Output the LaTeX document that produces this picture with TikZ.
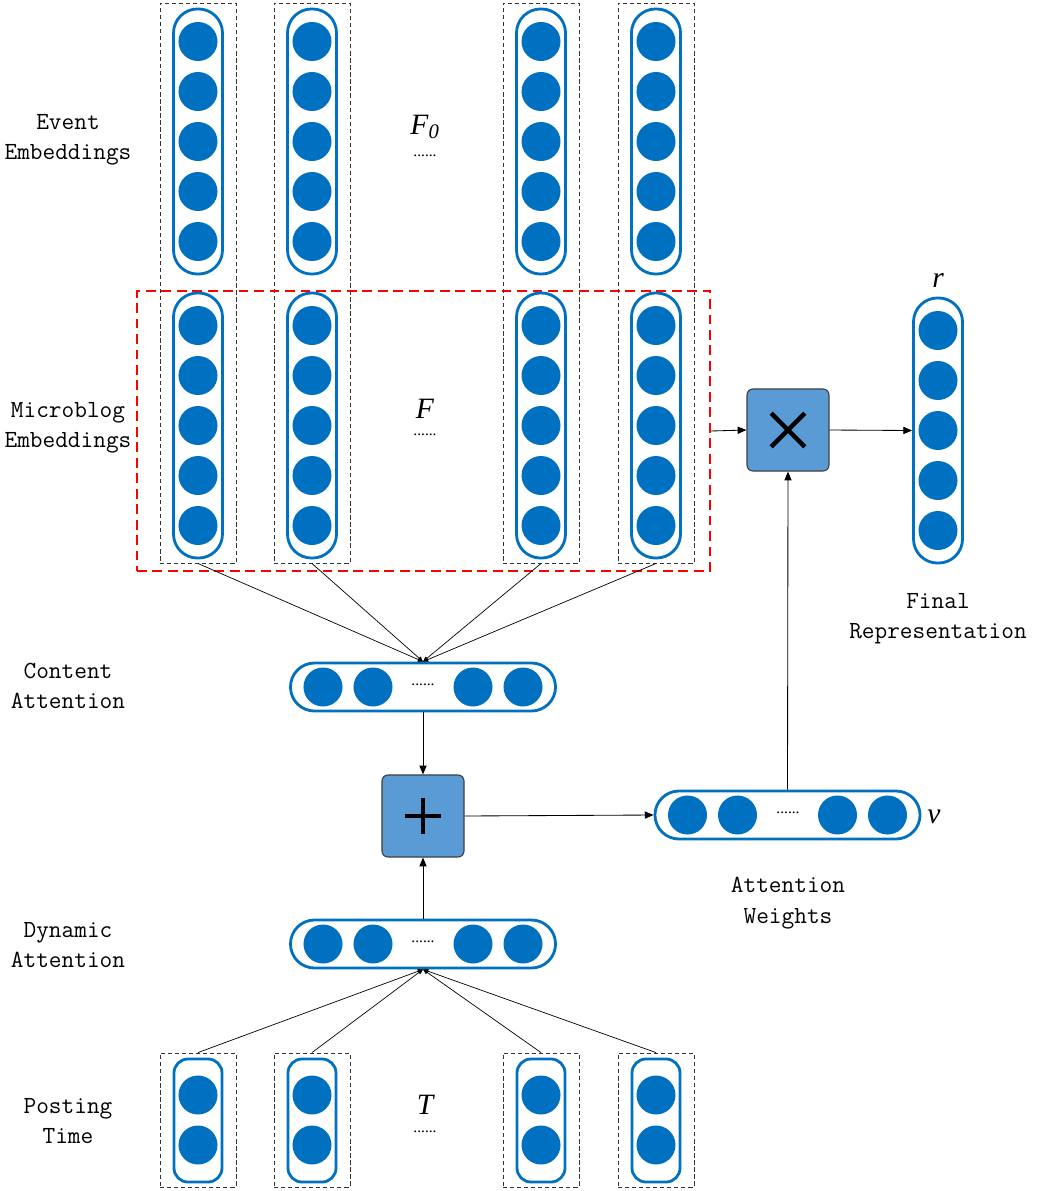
\documentclass[tikz,border=0pt]{standalone}
\usepackage{fontspec}
\newfontfamily\symfont{Liberation Serif}
\usetikzlibrary{arrows.meta}
\usetikzlibrary{positioning}
\definecolor{nnblue}{HTML}{0070C0}
\definecolor{opblue}{HTML}{5B9BD5}
\tikzset{
  neuron/.style={circle, fill=nnblue, inner sep=0pt, minimum size=0.975cm},
  vpill/.style={draw=nnblue, line width=2pt, rounded corners=0.6cm, minimum width=1.225cm, minimum height=6.625cm, inner sep=0pt},
  hpill/.style={draw=nnblue, line width=2pt, rounded corners=0.6cm, minimum width=6.625cm, minimum height=1.2cm, inner sep=0pt},
  tpill/.style={draw=nnblue, line width=2pt, rounded corners=0.35cm, minimum width=1.2cm, minimum height=3.075cm, inner sep=0pt},
  colbox/.style={draw=black!80, dash pattern=on 3pt off 2pt, line width=0.6pt, minimum width=1.9cm, inner sep=0pt},
  opbox/.style={draw=black!75, fill=opblue, line width=0.8pt, rounded corners=0.15cm, minimum size=2.05cm},
  lbl/.style={font=\ttfamily\fontsize{17.5}{21.5}\selectfont, align=center},
  symlbl/.style={font=\symfont\itshape\fontsize{21}{23}\selectfont, inner sep=0pt},
  dotlbl/.style={font=\symfont\fontsize{11}{12}\selectfont, inner sep=0pt},
  conn/.style={-{Triangle[length=2.2mm,width=1.8mm]}, line width=0.6pt},
  fan/.style={-{Triangle[length=1.3mm,width=1.1mm]}, line width=0.5pt},
}

\begin{document}
\begin{tikzpicture}[x=0.025cm, y=-0.025cm]
\useasboundingbox (0,0) rectangle (1041,1191);

% columns of event / microblog embeddings
\foreach \c/\x in {1/198,2/312,3/541,4/656}
{
  \node[colbox, minimum height=14cm] (fcol\c) at (\x,283) {};
  \node[colbox, minimum height=3.35cm] (tcol\c) at (\x,1120) {};
}
\node[draw=red, line width=1.2pt, dash pattern=on 7pt off 4pt, minimum width=14.325cm, minimum height=7cm, inner sep=0pt] (fbox) at (423.5,431) {};

\foreach \c/\x in {1/198,2/312,3/541,4/656}
{
  \node[vpill] (ev\c) at (\x,141.5) {};
  \node[vpill] (mb\c) at (\x,425.5) {};
  \node[tpill] (pt\c) at (\x,1120.5) {};
  \foreach \y in {-100,-50,...,100}
  {
    \node[neuron] at (\x,141.5+\y) {};
    \node[neuron] at (\x,425.5+\y) {};
  }
  \node[neuron] at (\x,1095) {};
  \node[neuron] at (\x,1145) {};
}

% final representation
\node[vpill] (fin) at (938,430.5) {};
\foreach \y in {-100,-50,...,100}
  \node[neuron] at (938,430.5+\y) {};

% attention vectors
\node[hpill] (cont) at (423,687) {};
\node[hpill] (dyn) at (423,944) {};
\node[hpill] (att) at (787.5,815) {};
\foreach \x in {-100,-50,50,100}
{
  \node[neuron] at (423+\x,687) {};
  \node[neuron] at (423+\x,944) {};
  \node[neuron] at (787.5+\x,815) {};
}
\node[dotlbl] (contdots) at (423,685) {......};
\node[dotlbl] (dyndots) at (423,942) {......};
\node[dotlbl] (attdots) at (788,813) {......};

% operations
\node[opbox] (add) at (423,816) {};
\node[opbox] (mul) at (788,430) {};
\draw[line width=3.3pt] ([xshift=-0.44cm]add.center) -- ([xshift=0.44cm]add.center);
\draw[line width=3.3pt] ([yshift=-0.44cm]add.center) -- ([yshift=0.44cm]add.center);
\draw[line width=3.2pt] ([shift={(-0.42cm,-0.42cm)}]mul.center) -- ([shift={(0.42cm,0.42cm)}]mul.center);
\draw[line width=3.2pt] ([shift={(-0.42cm,0.42cm)}]mul.center) -- ([shift={(0.42cm,-0.42cm)}]mul.center);

% connectors
\foreach \c in {1,...,4}
{
  \draw[fan] (fcol\c.south) -- (cont.north);
  \draw[fan] (tcol\c.north) -- (dyn.south);
}
\draw[conn] (cont.south) -- (add.north);
\draw[conn] (dyn.north) -- (add.south);
\draw[conn] (add.east) -- (att.west);
\draw[conn] (att.north) -- (mul.south);
\draw[conn] (fbox.east) -- (mul.west);
\draw[conn] (mul.east) -- (fin.west);

% labels
\node[lbl] (levent) at (68,140) {Event\\Embeddings};
\node[lbl] (lmicro) at (68,428) {Microblog\\Embeddings};
\node[lbl] (lcont) at (68,686) {Content\\Attention};
\node[lbl] (ldyn) at (68,945) {Dynamic\\Attention};
\node[lbl] (lpost) at (68,1121) {Posting\\Time};
\node[lbl] (lfin) at (938,619) {Final\\Representation};
\node[lbl] (latt) at (788,903) {Attention\\Weights};

\node[symlbl] (fzero) at (425,127) {F\textsubscript{0}};
\node[dotlbl] (fzerodots) at (425,156) {......};
\node[symlbl] (fmb) at (425,409) {F};
\node[dotlbl] (fmbdots) at (425,435) {......};
\node[symlbl] (tpost) at (425,1105) {T};
\node[dotlbl] (tpostdots) at (425,1132) {......};
\node[symlbl] (rfin) at (938,281) {r};
\node[symlbl] (vatt) at (934,817) {v};
\end{tikzpicture}
\end{document}
